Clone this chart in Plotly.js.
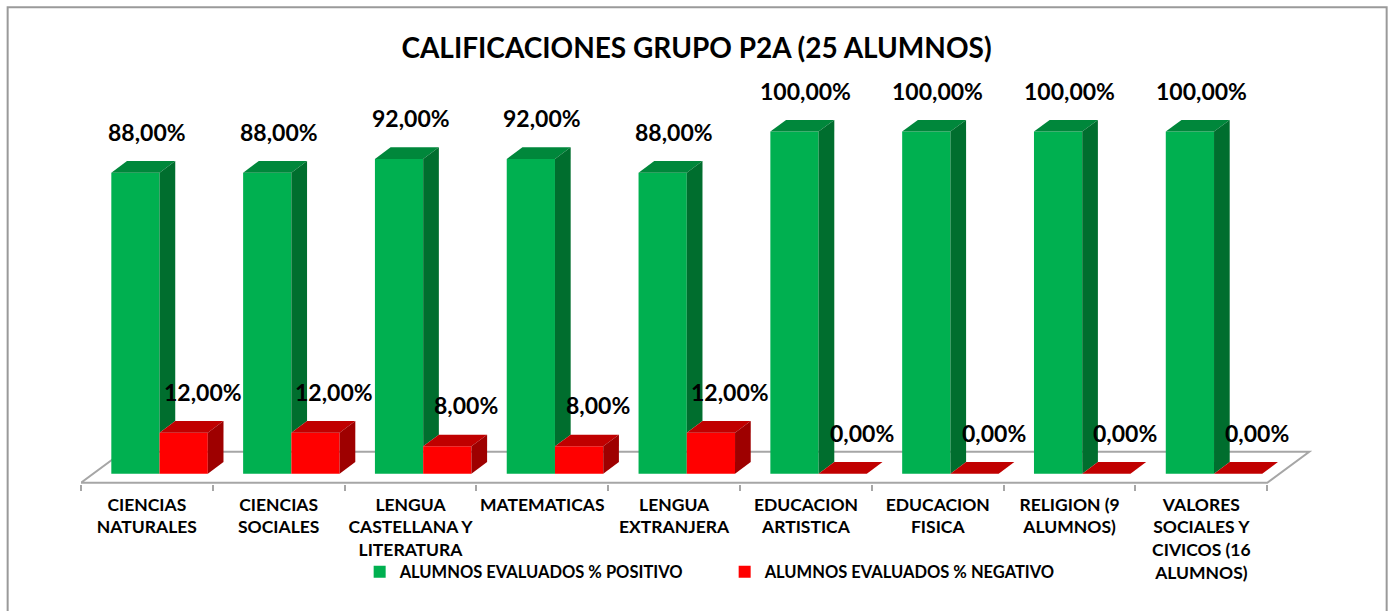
<!DOCTYPE html>
<html>
<head>
<meta charset="utf-8">
<script src="https://cdn.plot.ly/plotly-3.0.1.min.js"></script>
<style>
  html, body { margin: 0; padding: 0; background: #ffffff; }
  #chart { width: 1393px; height: 611px; }
</style>
</head>
<body>
<div id="chart"></div>
<script>
// ---- data ----
var categories = [
  "CIENCIAS<br>NATURALES",
  "CIENCIAS<br>SOCIALES",
  "LENGUA<br>CASTELLANA Y<br>LITERATURA",
  "MATEMATICAS",
  "LENGUA<br>EXTRANJERA",
  "EDUCACION<br>ARTISTICA",
  "EDUCACION<br>FISICA",
  "RELIGION (9<br>ALUMNOS)",
  "VALORES<br>SOCIALES Y<br>CIVICOS (16<br>ALUMNOS)"
];
var positivo = [88, 88, 92, 92, 88, 100, 100, 100, 100];
var negativo = [12, 12, 8, 8, 12, 0, 0, 0, 0];
var seriesNames = ["ALUMNOS EVALUADOS % POSITIVO", "ALUMNOS EVALUADOS % NEGATIVO"];
var chartTitle = "CALIFICACIONES GRUPO P2A (25 ALUMNOS)";

// ---- styling ----
var FONT = "Lato, 'Open Sans', 'Noto Sans', sans-serif";
var G_FRONT = "#00B050", G_TOP = "#00873B", G_SIDE = "#006E2E";
var R_FRONT = "#FF0000", R_TOP = "#C00000", R_SIDE = "#9E0000";
var BW = 0.366;          // bar width in category units
var G_OFF = -0.27;       // green bar offset from category centre
var R_OFF = G_OFF + BW;  // red bar sits next to green
var DX = 0.119, DY = 3.41; // pseudo-3D depth in data units

function fmt(v) { return v.toFixed(2).replace(".", ",") + "%"; }
function P(pts) {
  return "M" + pts.map(function (p) { return p[0].toFixed(4) + "," + p[1].toFixed(4); }).join(" L") + " Z";
}

var traces = [
  {
    type: "bar", name: seriesNames[0], x: categories, y: positivo,
    offset: G_OFF, width: BW,
    marker: { color: G_FRONT, line: { width: 0 } },
    hoverinfo: "skip"
  },
  {
    type: "bar", name: seriesNames[1], x: categories, y: negativo,
    offset: R_OFF, width: BW,
    marker: { color: R_FRONT, line: { width: 0 } },
    hoverinfo: "skip"
  }
];

var shapes = [];
// floor
var nCat = categories.length;
var fy0 = -2.62, fdx = 0.3186, fdy = 9.05;
shapes.push({
  type: "path", xref: "x", yref: "y", layer: "below",
  path: P([[-0.5, fy0], [nCat - 0.5, fy0], [nCat - 0.5 + fdx, fy0 + fdy], [-0.5 + fdx, fy0 + fdy]]),
  fillcolor: "#ffffff", line: { color: "#a6a6a6", width: 2 }
});

var annotations = [];
for (var i = 0; i < nCat; i++) {
  var g = positivo[i], r = negativo[i];
  var gx0 = i + G_OFF, gx1 = gx0 + BW;
  var rx0 = i + R_OFF, rx1 = rx0 + BW;
  shapes.push({ type: "path", xref: "x", yref: "y", line: { width: 0 }, fillcolor: G_TOP,
    path: P([[gx0, g], [gx1, g], [gx1 + DX, g + DY], [gx0 + DX, g + DY]]) });
  shapes.push({ type: "path", xref: "x", yref: "y", line: { width: 0 }, fillcolor: G_SIDE,
    path: P([[gx1, r], [gx1, g], [gx1 + DX, g + DY], [gx1 + DX, r + DY]]) });
  shapes.push({ type: "path", xref: "x", yref: "y", line: { width: 0 }, fillcolor: R_TOP,
    path: P([[rx0, r], [rx1, r], [rx1 + DX, r + DY], [rx0 + DX, r + DY]]) });
  if (r > 0) {
    shapes.push({ type: "path", xref: "x", yref: "y", line: { width: 0 }, fillcolor: R_SIDE,
      path: P([[rx1, 0], [rx1, r], [rx1 + DX, r + DY], [rx1 + DX, DY]]) });
  }
  annotations.push({ x: i, y: g + 12, xref: "x", yref: "y", text: fmt(g), showarrow: false,
    font: { family: FONT, size: 23, color: "#000000", weight: "bold" } });
  annotations.push({ x: i + 0.423, y: r + 12, xref: "x", yref: "y", text: fmt(r), showarrow: false,
    font: { family: FONT, size: 23, color: "#000000", weight: "bold" } });
}

// outer chart border
shapes.push({ type: "rect", xref: "paper", yref: "paper", layer: "above",
  x0: -0.0592, x1: 1.0538, y0: -0.38, y1: 1.1517,
  line: { color: "#9a9a9a", width: 2 }, fillcolor: "rgba(0,0,0,0)" });

var layout = {
  width: 1393, height: 611,
  margin: { l: 80.7, r: 73, t: 69.6, b: 126.7, pad: 0 },
  paper_bgcolor: "#ffffff", plot_bgcolor: "rgba(0,0,0,0)",
  barmode: "overlay",
  title: {
    text: chartTitle, x: 0.5, xref: "container", y: 0.921, yref: "container",
    xanchor: "center", yanchor: "middle",
    font: { family: FONT, size: 28, color: "#000000", weight: "bold" }
  },
  xaxis: {
    type: "category", range: [-0.5, 8.9],
    showline: false, showgrid: false, zeroline: false,
    ticks: "outside", tickson: "boundaries", ticklen: 6, tickcolor: "#a6a6a6", tickwidth: 2,
    ticklabelstandoff: 8,
    tickfont: { family: FONT, size: 17.5, color: "#000000", weight: "bold" },
    tickangle: 0, fixedrange: true
  },
  yaxis: {
    range: [-3, 118], showticklabels: false, showgrid: false, zeroline: false,
    showline: false, ticks: "", fixedrange: true
  },
  showlegend: true,
  legend: {
    orientation: "h", x: 0.5195, xanchor: "center", y: -0.2127, yanchor: "middle",
    entrywidth: 320,
    font: { family: FONT, size: 16.5, color: "#000000", weight: "bold" },
    bgcolor: "rgba(0,0,0,0)", traceorder: "normal", itemclick: false, itemdoubleclick: false
  },
  shapes: shapes,
  annotations: annotations
};

Plotly.newPlot("chart", traces, layout, { displayModeBar: false, staticPlot: true });
</script>
</body>
</html>
